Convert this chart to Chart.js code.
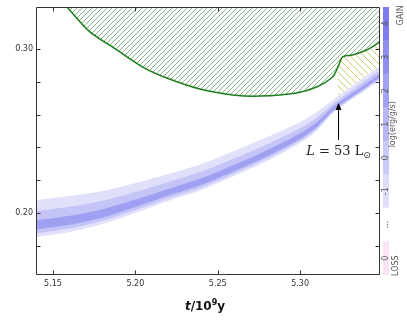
<!DOCTYPE html>
<html lang="en">
<head>
    <meta charset="UTF-8">
    <title>Heating band</title>
    <style>
        body {
            margin: 0;
            background-color: white;
        }
        #wrap {
            position: relative;
            width: 407px;
            height: 332px;
        }
        #wrap canvas {
            position: absolute;
            left: 0;
            top: 0;
        }
    </style>
    <script src="https://cdn.jsdelivr.net/npm/chart.js@4/dist/chart.umd.min.js"></script>
    <script>
        // ticks
        const xTicks = [5.15, 5.20, 5.25, 5.30];
        const yTicks = [0.18, 0.20, 0.22, 0.24, 0.26, 0.28, 0.30];
        const yLabelled = [0.20, 0.30];

        // green boundary (hatched above)
        const greenT = [5.1585, 5.1724, 5.1888, 5.2045, 5.2191, 5.2391, 5.2591, 5.2755, 5.2979, 5.3100, 5.3197, 5.3227, 5.3252, 5.3270, 5.3318, 5.3403, 5.3485];
        const greenY = [0.3256, 0.3104, 0.2994, 0.2890, 0.2823, 0.2756, 0.2720, 0.2713, 0.2732, 0.2768, 0.2829, 0.2884, 0.2945, 0.2957, 0.2963, 0.2994, 0.3043];

        // yellow hatched patch between green boundary and the band
        const yellowT = [5.3227, 5.3252, 5.3270, 5.3318, 5.3403, 5.3485];
        const yellowTop = [0.2884, 0.2945, 0.2957, 0.2963, 0.2994, 0.3043];
        const yellowBot = [0.2681, 0.2700, 0.2712, 0.2748, 0.2809, 0.2870];

        // blue band, three nested layers
        const bandT = [5.1397, 5.16, 5.18, 5.20, 5.22, 5.24, 5.26, 5.28, 5.30, 5.31, 5.32, 5.33, 5.34, 5.3485];
        const outerTop = [0.2079, 0.2104, 0.2134, 0.2183, 0.2238, 0.2299, 0.2378, 0.2463, 0.2555, 0.2616, 0.2689, 0.2762, 0.2835, 0.2896];
        const outerBot = [0.1854, 0.1884, 0.1933, 0.2000, 0.2073, 0.2140, 0.2226, 0.2317, 0.2427, 0.2500, 0.2610, 0.2683, 0.2750, 0.2811];
        const midTop = [0.2012, 0.2038, 0.2074, 0.2128, 0.2189, 0.2251, 0.2332, 0.2419, 0.2517, 0.2581, 0.2665, 0.2738, 0.2810, 0.2871];
        const midBot = [0.1877, 0.1906, 0.1953, 0.2018, 0.2090, 0.2156, 0.2241, 0.2332, 0.2440, 0.2512, 0.2618, 0.2691, 0.2759, 0.2820];
        const coreTop = [0.1955, 0.1983, 0.2023, 0.2082, 0.2147, 0.2212, 0.2294, 0.2383, 0.2485, 0.2552, 0.2646, 0.2719, 0.2788, 0.2849];
        const coreBot = [0.1899, 0.1928, 0.1973, 0.2037, 0.2106, 0.2172, 0.2256, 0.2346, 0.2453, 0.2523, 0.2626, 0.2699, 0.2767, 0.2828];

        // colour bar, bottom to top
        const cbLabels = ['0', '...', '-1', '0', '1', '2', '3', '4'];
        const cbColors = ['#fce4f6', '#ffffff', '#dedefa', '#cacaf8', '#b6b6f6', '#a2a2f4', '#8e8ef2', '#7c7cf0'];

        function pts(xs, ys) {
            return xs.map((x, i) => ({ x: x, y: ys[i] }));
        }

        function hatch(color, size, dir, lw) {
            const c = document.createElement('canvas');
            c.width = size;
            c.height = size;
            const g = c.getContext('2d');
            g.strokeStyle = color;
            g.lineWidth = lw;
            g.beginPath();
            if (dir === '/') {
                g.moveTo(0, size); g.lineTo(size, 0);
                g.moveTo(-1, 1); g.lineTo(1, -1);
                g.moveTo(size - 1, size + 1); g.lineTo(size + 1, size - 1);
            } else {
                g.moveTo(0, 0); g.lineTo(size, size);
                g.moveTo(-1, size - 1); g.lineTo(1, size + 1);
                g.moveTo(size - 1, -1); g.lineTo(size + 1, 1);
            }
            g.stroke();
            return g.createPattern(c, 'repeat');
        }

        function flat(data, extra) {
            return Object.assign({ data: data, borderWidth: 0, pointRadius: 0, fill: false, tension: 0.3 }, extra);
        }

        function drawPieces(ctx, pieces, cx, baseY) {
            let total = 0;
            pieces.forEach(p => { ctx.font = p.f; p.w = ctx.measureText(p.t).width; total += p.w; });
            let x = cx - total / 2;
            pieces.forEach(p => {
                ctx.font = p.f;
                ctx.fillText(p.t, x, baseY + (p.dy || 0));
                x += p.w;
            });
        }

        const frame = {
            id: 'frame',
            afterDraw(chart) {
                const { ctx, chartArea: a, scales: { x, y } } = chart;
                ctx.save();
                ctx.strokeStyle = '#333';
                ctx.lineWidth = 1;
                ctx.beginPath();
                const L = Math.round(a.left) + 0.5, R = Math.round(a.right) - 0.5;
                const T = Math.round(a.top) + 0.5, B = Math.round(a.bottom) - 0.5;
                ctx.rect(L, T, R - L, B - T);
                yTicks.forEach(v => {
                    const py = Math.round(y.getPixelForValue(v)) + 0.5;
                    ctx.moveTo(L, py); ctx.lineTo(L + 4, py);
                    ctx.moveTo(R, py); ctx.lineTo(R - 4, py);
                });
                xTicks.forEach(v => {
                    const px = Math.round(x.getPixelForValue(v)) + 0.5;
                    ctx.moveTo(px, B); ctx.lineTo(px, B - 4);
                    ctx.moveTo(px, T); ctx.lineTo(px, T + 4);
                });
                ctx.stroke();

                // axis title t/10^9 y
                ctx.fillStyle = '#111';
                ctx.textBaseline = 'alphabetic';
                drawPieces(ctx, [
                    { t: 't', f: 'italic bold 12px "DejaVu Sans"' },
                    { t: '/10', f: 'bold 12px "DejaVu Sans"' },
                    { t: '9', f: 'bold 8px "DejaVu Sans"', dy: -5 },
                    { t: 'y', f: 'bold 12px "DejaVu Sans"' }
                ], (a.left + a.right) / 2 - 3, 310);

                // arrow + label
                const ax = Math.round(x.getPixelForValue(5.3233)) + 0.5;
                const tip = y.getPixelForValue(0.2671);
                const tail = y.getPixelForValue(0.2445);
                ctx.strokeStyle = '#000';
                ctx.fillStyle = '#000';
                ctx.beginPath();
                ctx.moveTo(ax, tail); ctx.lineTo(ax, tip + 5);
                ctx.stroke();
                ctx.beginPath();
                ctx.moveTo(ax, tip); ctx.lineTo(ax - 3, tip + 7); ctx.lineTo(ax + 3, tip + 7);
                ctx.closePath();
                ctx.fill();
                ctx.fillStyle = '#222';
                drawPieces(ctx, [
                    { t: 'L', f: 'italic 13px "DejaVu Serif"' },
                    { t: ' = 53 L', f: '13px "DejaVu Serif"' },
                    { t: '\u2299', f: '9px "DejaVu Sans"', dy: 3 }
                ], ax, y.getPixelForValue(0.2354));
                ctx.restore();
            }
        };

        const cbText = {
            id: 'cbText',
            afterDraw(chart) {
                const { ctx, scales: { y } } = chart;
                ctx.save();
                ctx.fillStyle = '#555';
                ctx.textAlign = 'center';
                ctx.textBaseline = 'middle';
                const put = (txt, px, py, font) => {
                    ctx.save();
                    ctx.translate(px, py);
                    ctx.rotate(-Math.PI / 2);
                    ctx.font = font;
                    ctx.fillText(txt, 0, 0);
                    ctx.restore();
                };
                cbLabels.forEach((t, i) => put(t, 386, y.getPixelForValue(i + 0.5), '8px "DejaVu Sans"'));
                put('log(erg/g/s)', 393, y.getPixelForValue(4.5), '8px "DejaVu Sans"');
                put('GAIN', 401, y.getPixelForValue(7.75), '8px "DejaVu Sans"');
                put('LOSS', 396, y.getPixelForValue(0.28), '8px "DejaVu Sans"');
                ctx.restore();
            }
        };

        window.onload = function () {
            const greenHatch = hatch('rgba(40,120,40,0.7)', 5, '/', 0.8);
            const yellowHatch = hatch('rgba(195,195,80,0.85)', 7, '\\', 1);

            new Chart(document.getElementById('chart'), {
                type: 'line',
                data: {
                    datasets: [
                        flat(pts(bandT, coreBot), { order: 1 }),
                        flat(pts(bandT, coreTop), { order: 1, fill: '-1', backgroundColor: '#a0a0f2' }),
                        flat(pts(bandT, midBot), { order: 2 }),
                        flat(pts(bandT, midTop), { order: 2, fill: '-1', backgroundColor: '#c4c4f7' }),
                        flat(pts(bandT, outerBot), { order: 3 }),
                        flat(pts(bandT, outerTop), { order: 3, fill: '-1', backgroundColor: '#e0e0fb' }),
                        flat(pts(yellowT, yellowBot), { order: 5, tension: 0.2 }),
                        flat(pts(yellowT, yellowTop), { order: 5, tension: 0.2, fill: '-1', backgroundColor: yellowHatch }),
                        flat(pts(greenT, greenY), {
                            order: 4, tension: 0.25, fill: 'end', backgroundColor: greenHatch,
                            borderColor: '#1b7d1b', borderWidth: 1.5
                        })
                    ]
                },
                options: {
                    responsive: false,
                    animation: false,
                    devicePixelRatio: 1,
                    layout: { padding: { left: 0, right: 27, top: 7, bottom: 0 } },
                    plugins: { legend: { display: false }, tooltip: { enabled: false } },
                    scales: {
                        x: {
                            type: 'linear',
                            min: 5.1397,
                            max: 5.3485,
                            grid: { display: false, drawTicks: false },
                            border: { display: false },
                            afterBuildTicks: s => { s.ticks = xTicks.map(v => ({ value: v })); },
                            afterFit: s => { s.height = 57; s.paddingLeft = 0; s.paddingRight = 0; },
                            ticks: {
                                padding: 4,
                                color: '#333',
                                font: { family: 'DejaVu Sans', size: 8 },
                                maxRotation: 0,
                                autoSkip: false,
                                callback: v => v.toFixed(2)
                            }
                        },
                        y: {
                            min: 0.1622,
                            max: 0.3256,
                            grid: { display: false, drawTicks: false },
                            border: { display: false },
                            afterBuildTicks: s => { s.ticks = yTicks.map(v => ({ value: v })); },
                            afterFit: s => { s.width = 36; s.paddingTop = 0; s.paddingBottom = 0; },
                            ticks: {
                                padding: 3,
                                color: '#333',
                                font: { family: 'DejaVu Sans', size: 8 },
                                autoSkip: false,
                                callback: v => yLabelled.some(l => Math.abs(l - v) < 1e-6) ? v.toFixed(2) : ''
                            }
                        }
                    }
                },
                plugins: [frame]
            });

            new Chart(document.getElementById('cbar'), {
                type: 'bar',
                data: {
                    labels: [''],
                    datasets: cbColors.map((c, i) => ({
                        label: cbLabels[i],
                        data: [1],
                        backgroundColor: c,
                        borderWidth: 0,
                        barPercentage: 1,
                        categoryPercentage: 1
                    }))
                },
                options: {
                    responsive: false,
                    animation: false,
                    devicePixelRatio: 1,
                    layout: { padding: { left: 383, right: 18, top: 7, bottom: 57 } },
                    plugins: { legend: { display: false }, tooltip: { enabled: false } },
                    scales: {
                        x: { display: false, stacked: true },
                        y: { display: false, stacked: true, min: 0, max: 8 }
                    }
                },
                plugins: [cbText]
            });
        };
    </script>
</head>
<body>
    <div id="wrap">
        <canvas id="chart" width="407" height="332"></canvas>
        <canvas id="cbar" width="407" height="332"></canvas>
    </div>
</body>
</html>
